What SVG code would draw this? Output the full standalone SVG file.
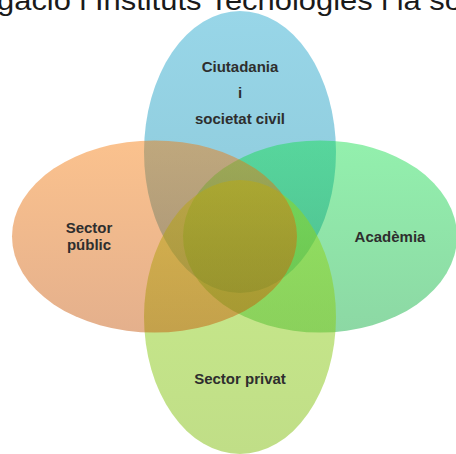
<svg xmlns="http://www.w3.org/2000/svg" width="456" height="454" viewBox="0 0 456 454">
  <defs>
    <linearGradient id="gBlue" x1="0" y1="0" x2="0" y2="1">
      <stop offset="0" stop-color="#98d6e8"/>
      <stop offset="1" stop-color="#8cc8d8"/>
    </linearGradient>
    <linearGradient id="gGreen" x1="0" y1="0" x2="0" y2="1">
      <stop offset="0" stop-color="#0fde49" stop-opacity="0.45"/>
      <stop offset="1" stop-color="#00a835" stop-opacity="0.45"/>
    </linearGradient>
    <linearGradient id="gYellow" x1="0" y1="0" x2="0" y2="1">
      <stop offset="0" stop-color="#93d919" stop-opacity="0.5"/>
      <stop offset="1" stop-color="#81bd0f" stop-opacity="0.5"/>
    </linearGradient>
    <linearGradient id="gOrange" x1="0" y1="0" x2="0" y2="1">
      <stop offset="0" stop-color="#f67703" stop-opacity="0.45"/>
      <stop offset="1" stop-color="#c34f00" stop-opacity="0.45"/>
    </linearGradient>
  </defs>
  <style>
    .lbl { font-family: "Liberation Sans", Arial, sans-serif; font-weight: bold; font-size: 15px; fill: #2e2e2e; text-anchor: middle; }
    .title { font-family: "Liberation Sans", Arial, sans-serif; font-size: 28px; fill: #1a1a1a; }
  </style>
  <text class="title" x="-3" y="10" textLength="465" lengthAdjust="spacingAndGlyphs">gació i Instituts Tecnologies i la so</text>
  <g id="ciutadania">
    <ellipse cx="240" cy="152" rx="96" ry="141" fill="url(#gBlue)"/>
    <text class="lbl" x="240" y="72">Ciutadania</text>
    <text class="lbl" x="240" y="98">i</text>
    <text class="lbl" x="240" y="124">societat civil</text>
  </g>
  <g id="academia">
    <ellipse cx="320" cy="236.5" rx="137" ry="96" fill="url(#gGreen)"/>
    <text class="lbl" x="390" y="242">Acadèmia</text>
  </g>
  <g id="sector-privat">
    <ellipse cx="240" cy="317" rx="96" ry="137" fill="url(#gYellow)"/>
    <text class="lbl" x="240" y="384">Sector privat</text>
  </g>
  <g id="sector-public">
    <ellipse cx="154.5" cy="236.5" rx="142.5" ry="96" fill="url(#gOrange)"/>
    <text class="lbl" x="89" y="233">Sector</text>
    <text class="lbl" x="89" y="250">públic</text>
  </g>
</svg>
